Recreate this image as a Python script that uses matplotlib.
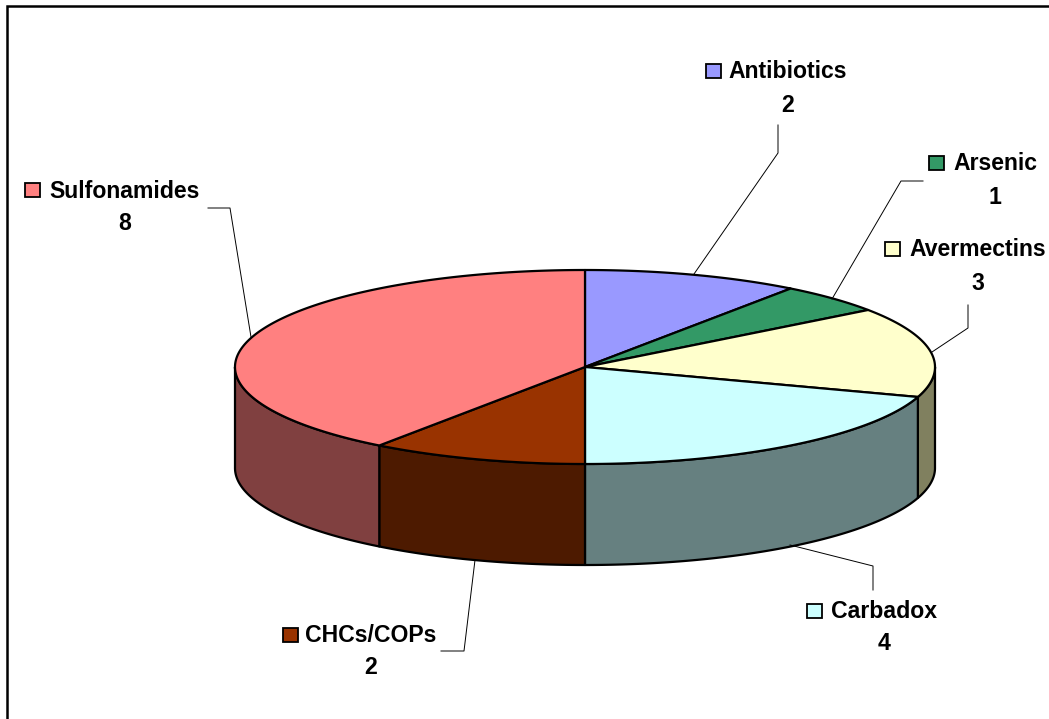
import matplotlib
matplotlib.use('Agg')
import matplotlib.pyplot as plt
import numpy as np

labels = ['Antibiotics', 'Arsenic', 'Avermectins', 'Carbadox', 'CHCs/COPs', 'Sulfonamides']
values = [2, 1, 3, 4, 2, 8]
colors = ['#9999FF', '#339966', '#FFFFCC', '#CCFFFF', '#993300', '#FF8080']
walls = ['#6B6BB3', '#246B47', '#80805F', '#668080', '#4D1A00', '#804040']

# pie geometry in image pixels
cx, cy = 585, 367
rx, ry = 350, 97
depth = 101

# label text centre x and y, value y, marker left edge
label_pos = {
    'Antibiotics': (788, 72, 106, 706),
    'Arsenic': (995, 164, 197, 929),
    'Avermectins': (978, 250, 284, 885),
    'Carbadox': (884, 612, 644, 807),
    'CHCs/COPs': (371, 636, 668, 283),
    'Sulfonamides': (125, 191, 224, 25),
}
leader_lines = {
    'Antibiotics': ([694, 778, 778], [274, 153, 125]),
    'Arsenic': ([832, 901, 923], [299, 181, 181]),
    'Avermectins': ([932, 968, 968], [352, 328, 305]),
    'Carbadox': ([790, 873, 873], [545, 566, 590]),
    'CHCs/COPs': ([475, 464, 441], [560, 651, 651]),
    'Sulfonamides': ([251, 230, 208], [337, 208, 208]),
}


def rim(a0, a1, dy=0.0):
    t = np.radians(np.linspace(a0, a1, 200))
    return cx + rx * np.sin(t), cy - ry * np.cos(t) + dy


fig = plt.figure(figsize=(10.49, 7.19), dpi=100)
ax = fig.add_axes([0, 0, 1, 1])
ax.set_xlim(0, 1049)
ax.set_ylim(719, 0)
ax.axis('off')

# chart frame, only left and top are inside the picture
ax.plot([7, 7, 1049], [719, 6, 6], color='black', lw=1.8, solid_joinstyle='miter')

edges = np.concatenate([[0], np.cumsum(values)]) * 360 / sum(values)

# outer wall, only the front half shows
for i in range(len(values)):
    a0, a1 = max(edges[i], 90), min(edges[i + 1], 270)
    if a0 >= a1:
        continue
    x, y = rim(a0, a1)
    xb, yb = rim(a0, a1, depth)
    ax.fill(np.r_[x, xb[::-1]], np.r_[y, yb[::-1]], facecolor=walls[i],
            edgecolor='black', lw=1.6, joinstyle='round')

# top face
for i in range(len(values)):
    x, y = rim(edges[i], edges[i + 1])
    ax.fill(np.r_[cx, x], np.r_[cy, y], facecolor=colors[i],
            edgecolor='black', lw=1.6, joinstyle='round')

for name, value, color in zip(labels, values, colors):
    tx, ty, vy, mx = label_pos[name]
    ax.text(tx, ty, name, ha='center', va='center', fontsize=16.6,
            fontweight='bold', family='Liberation Sans', color='black')
    ax.text(tx, vy, str(value), ha='center', va='center', fontsize=16.6,
            fontweight='bold', family='Liberation Sans', color='black')
    ax.fill([mx, mx + 15, mx + 15, mx], [ty - 8, ty - 8, ty + 6, ty + 6],
            facecolor=color, edgecolor='black', lw=1.3)

for name in labels:
    lx, ly = leader_lines[name]
    ax.plot(lx, ly, color='black', lw=0.7)

fig.savefig('out.png', dpi=100)
